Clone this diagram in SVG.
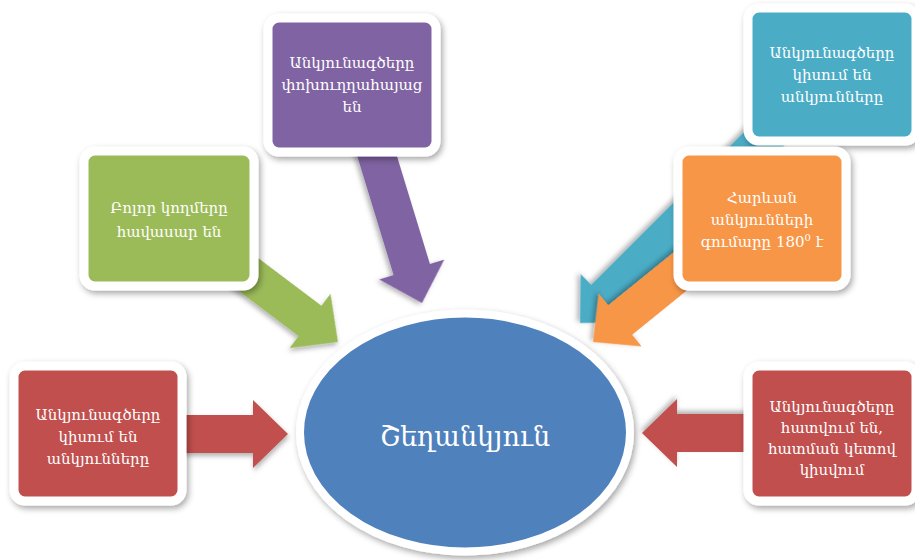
<svg xmlns="http://www.w3.org/2000/svg" width="915" height="560" viewBox="0 0 915 560">
<defs>
<filter id="sh" x="-20%" y="-20%" width="140%" height="140%">
<feDropShadow dx="2" dy="3" stdDeviation="3" flood-color="#000" flood-opacity="0.35"/>
</filter>
<filter id="sha" x="-20%" y="-20%" width="140%" height="140%">
<feDropShadow dx="1" dy="3" stdDeviation="2.5" flood-color="#000" flood-opacity="0.3"/>
</filter>
</defs>
<style>
.box{stroke:#fff;stroke-width:9;filter:url(#sh)}
.t{font-family:"DejaVu Serif","Noto Sans","DejaVu Sans",serif;font-size:15px;fill:#fff;text-anchor:middle}
.big{font-size:27px}
.arr{filter:url(#sha)}
</style>
<rect width="915" height="560" fill="#fff"/>

<g id="center">
<ellipse cx="465" cy="432.5" rx="165" ry="119" fill="#4F81BD" stroke="#fff" stroke-width="8" filter="url(#sh)"/>
<text class="t big" x="465" y="446">Շեղանկյուն</text>
</g>

<g id="connectors">
<polygon class="arr" fill="#4BACC6" transform="translate(580,323) rotate(135)" points="-300,-19 -35,-19 -35,-34 0,0 -35,34 -35,19 -300,19"/>
<polygon class="arr" fill="#F79646" transform="translate(593,342) rotate(141)" points="-170,-19 -35,-19 -35,-34 0,0 -35,34 -35,19 -170,19"/>
<polygon class="arr" fill="#9BBB59" transform="translate(338,342) rotate(37)" points="-150,-19 -35,-19 -35,-34 0,0 -35,34 -35,19 -150,19"/>
<polygon class="arr" fill="#8064A2" transform="translate(422,303) rotate(73)" points="-190,-19 -35,-19 -35,-34 0,0 -35,34 -35,19 -190,19"/>
<polygon class="arr" fill="#C0504D" transform="translate(288,434) rotate(0)" points="-150,-19 -35,-19 -35,-34 0,0 -35,34 -35,19 -150,19"/>
<polygon class="arr" fill="#C0504D" transform="translate(642,433) rotate(180)" points="-150,-19 -35,-19 -35,-34 0,0 -35,34 -35,19 -150,19"/>
</g>

<g id="purple">
<rect class="box" x="268" y="18" width="168" height="134" rx="11" fill="#8064A2"/>
<text class="t" x="352" y="68">Անկյունագծերը</text>
<text class="t" x="352" y="90">փոխուղղահայաց</text>
<text class="t" x="352" y="112">են</text>
</g>

<g id="teal">
<rect class="box" x="748" y="8" width="168" height="133" rx="11" fill="#4BACC6"/>
<text class="t" x="832" y="58">Անկյունագծերը</text>
<text class="t" x="832" y="80">կիսում են</text>
<text class="t" x="832" y="102">անկյունները</text>
</g>

<g id="green">
<rect class="box" x="84" y="151" width="170" height="135" rx="11" fill="#9BBB59"/>
<text class="t" x="169" y="213">Բոլոր կողմերը</text>
<text class="t" x="169" y="237">հավասար են</text>
</g>

<g id="orange">
<rect class="box" x="678" y="151" width="168" height="135" rx="11" fill="#F79646"/>
<text class="t" x="762" y="203">Հարևան</text>
<text class="t" x="762" y="225">անկյունների</text>
<text class="t" x="762" y="247">գումարը 180<tspan font-size="10" dy="-6">0</tspan><tspan dy="6"> է</tspan></text>
</g>

<g id="red-left">
<rect class="box" x="14" y="366" width="168" height="135" rx="11" fill="#C0504D"/>
<text class="t" x="98" y="420">Անկյունագծերը</text>
<text class="t" x="98" y="442">կիսում են</text>
<text class="t" x="98" y="464">անկյունները</text>
</g>

<g id="red-right">
<rect class="box" x="748" y="366" width="168" height="135" rx="11" fill="#C0504D"/>
<text class="t" x="832" y="412">Անկյունագծերը</text>
<text class="t" x="832" y="433">հատվում են,</text>
<text class="t" x="832" y="454">հատման կետով</text>
<text class="t" x="832" y="475">կիսվում</text>
</g>
</svg>
